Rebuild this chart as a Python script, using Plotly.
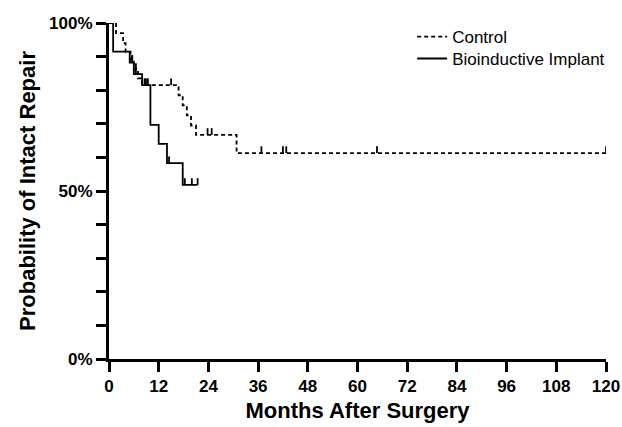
import numpy as np
import plotly.graph_objects as go

# Control (dashed) Kaplan-Meier steps
control_times = [0, 1.7, 3.4, 4.0, 5.2, 6.0, 7.0, 8.0, 16.8, 17.8, 18.8, 19.8, 21.0, 30.8]
control_surv = [100, 97.0, 94.0, 91.5, 88.5, 86.0, 83.5, 81.5, 78.5, 75.5, 72.5, 69.5, 66.7, 61.3]
control_end = 120
control_censor = [5.6, 6.5, 8.8, 9.4, 15.0, 23.8, 24.8, 36.8, 42.0, 42.8, 64.7, 120]

# Bioinductive implant (solid)
implant_times = [0, 1.0, 5.0, 6.0, 8.0, 10.0, 12.0, 14.0, 17.8]
implant_surv = [100, 91.5, 88.2, 84.8, 81.5, 69.7, 64.0, 58.3, 51.8]
implant_end = 21.4
implant_censor = [5.6, 6.5, 8.6, 9.2, 14.5, 18.3, 20.0, 21.4]

x_ticks = [0, 12, 24, 36, 48, 60, 72, 84, 96, 108, 120]
y_ticks = [0, 10, 20, 30, 40, 50, 60, 70, 80, 90, 100]
y_labels = {0: "0%", 50: "50%", 100: "100%"}

TICK_H = 2.0  # censor tick height in % units


def surv_at(times, surv, t):
    i = np.searchsorted(np.array(times), t, side="right") - 1
    return surv[max(i, 0)]


def censor_segments(times, surv, cens):
    xs, ys = [], []
    for t in cens:
        s = surv_at(times, surv, t)
        xs += [t, t, None]
        ys += [s, s + TICK_H, None]
    return xs, ys


fig = go.Figure()

for times, surv, end, cens, name, dash, leg in [
    (control_times, control_surv, control_end, control_censor, "Control", "4px,3px", "legend"),
    (implant_times, implant_surv, implant_end, implant_censor, "Bioinductive Implant", "solid", "legend2"),
]:
    fig.add_trace(go.Scatter(
        x=list(times) + [end], y=list(surv) + [surv[-1]],
        mode="lines", line=dict(color="black", width=1.8, dash=dash, shape="hv"),
        name=name, showlegend=True, legend=leg,
    ))
    cx, cy = censor_segments(times, surv, cens)
    fig.add_trace(go.Scatter(
        x=cx, y=cy, mode="lines", line=dict(color="black", width=1.8),
        showlegend=False, hoverinfo="skip",
    ))

tick_font = dict(size=17, family="Arial, Liberation Sans, sans-serif", weight="bold", color="black")
title_font = dict(size=22, family="Arial, Liberation Sans, sans-serif", weight="bold", color="black")
leg_common = dict(xanchor="left", yanchor="middle", bgcolor="rgba(0,0,0,0)",
                  font=dict(size=17, family="Arial, Liberation Sans, sans-serif", color="black"),
                  itemwidth=30)

fig.update_layout(
    width=622, height=427,
    margin=dict(l=109, r=14, t=23, b=68),
    paper_bgcolor="white", plot_bgcolor="white",
    font=dict(family="Arial, Liberation Sans, sans-serif", color="black"),
    legend=dict(x=0.61, y=0.958, **leg_common),
    legend2=dict(x=0.61, y=0.893, **leg_common),
    xaxis=dict(
        range=[0, 120], tickvals=x_ticks, ticktext=[str(v) for v in x_ticks],
        showgrid=False, zeroline=False, showline=True, linecolor="black", linewidth=3,
        ticks="outside", ticklen=10, tickwidth=2.5, tickcolor="black",
        tickfont=tick_font, ticklabeloverflow="allow", automargin=False,
        title=dict(text="Months After Surgery", font=title_font, standoff=8),
    ),
    yaxis=dict(
        range=[0, 100], tickvals=y_ticks,
        ticktext=[y_labels.get(v, "") for v in y_ticks],
        showgrid=False, zeroline=False, showline=True, linecolor="black", linewidth=3,
        ticks="outside", ticklen=10, tickwidth=2.5, tickcolor="black",
        tickfont=tick_font, ticklabeloverflow="allow", automargin=False,
        title=dict(text="Probability of Intact Repair", font=title_font, standoff=8),
    ),
)

fig.write_html("out.html")
